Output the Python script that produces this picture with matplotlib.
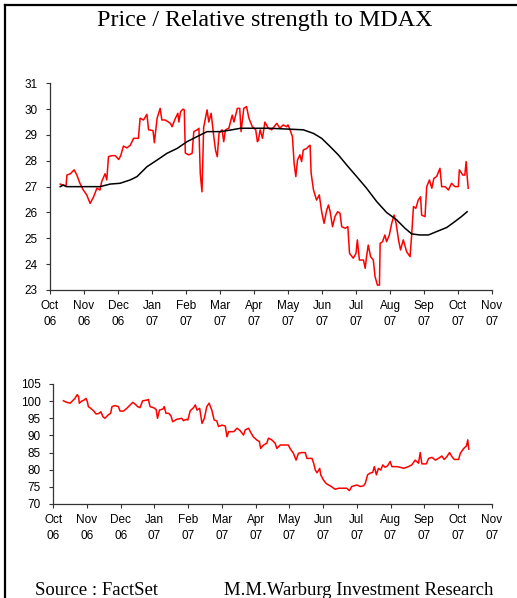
import matplotlib
matplotlib.use("Agg")
import matplotlib.pyplot as plt
from matplotlib.lines import Line2D

# x positions are months after 1 Oct 2006 (0 = Oct 06, 13 = Nov 07)
month_labels = ["Oct\n06", "Nov\n06", "Dec\n06", "Jan\n07", "Feb\n07", "Mar\n07", "Apr\n07",
                "May\n07", "Jun\n07", "Jul\n07", "Aug\n07", "Sep\n07", "Oct\n07", "Nov\n07"]

# share price (EUR)
price_x = [0.30, 0.39, 0.47, 0.50, 0.60, 0.71, 0.79, 0.88, 0.98, 1.08, 1.18, 1.28, 1.38, 1.47, 1.52,
           1.62, 1.67, 1.72, 1.82, 1.92, 2.02, 2.08, 2.16, 2.26, 2.36, 2.46, 2.60, 2.65, 2.75, 2.85,
           2.90, 3.03, 3.07, 3.15, 3.24, 3.29, 3.39, 3.54, 3.59, 3.69, 3.76, 3.79, 3.84, 3.91, 3.95,
           3.98, 4.08, 4.18, 4.23, 4.33, 4.38, 4.42, 4.47, 4.52, 4.62, 4.67, 4.74, 4.82, 4.87, 4.92,
           4.97, 5.06, 5.11, 5.16, 5.26, 5.36, 5.41, 5.51, 5.58, 5.62, 5.70, 5.78, 5.85, 5.95, 6.05,
           6.10, 6.13, 6.18, 6.25, 6.32, 6.42, 6.52, 6.67, 6.76, 6.86, 6.96, 7.00, 7.06, 7.13, 7.18,
           7.23, 7.28, 7.35, 7.40, 7.45, 7.55, 7.60, 7.65, 7.68, 7.75, 7.84, 7.92, 7.99, 8.06, 8.14,
           8.19, 8.24, 8.31, 8.38, 8.46, 8.53, 8.58, 8.68, 8.76, 8.81, 8.92, 9.00, 9.04, 9.10, 9.22,
           9.27, 9.31, 9.36, 9.43, 9.51, 9.56, 9.63, 9.69, 9.71, 9.78, 9.85, 9.90, 9.98, 10.05, 10.12,
           10.18, 10.25, 10.31, 10.39, 10.49, 10.59, 10.64, 10.69, 10.76, 10.83, 10.90, 10.93, 11.03,
           11.08, 11.16, 11.23, 11.29, 11.37, 11.47, 11.52, 11.62, 11.72, 11.81, 11.91, 12.01, 12.04,
           12.14, 12.20, 12.24, 12.27, 12.30]
price_y = [27.10, 27.06, 27.03, 27.45, 27.50, 27.65, 27.45, 27.13, 26.87, 26.68, 26.35, 26.60, 26.94, 26.87, 27.20,
           27.50, 27.26, 28.16, 28.20, 28.20, 28.05, 28.20, 28.57, 28.50, 28.60, 28.87, 28.87, 29.65, 29.58, 29.80,
           29.20, 29.17, 28.70, 29.65, 30.03, 29.58, 29.58, 29.45, 29.32, 29.65, 29.84, 29.50, 29.90, 30.00, 29.97,
           28.30, 28.23, 28.29, 29.13, 29.20, 29.26, 27.50, 26.80, 29.30, 29.97, 29.50, 29.84, 28.90, 28.40, 28.16,
           29.06, 29.20, 28.74, 29.20, 29.26, 29.77, 29.50, 30.03, 30.03, 29.13, 30.03, 30.10, 29.65, 29.32, 29.20,
           28.74, 28.80, 29.20, 28.87, 29.50, 29.26, 29.20, 29.45, 29.26, 29.39, 29.32, 29.39, 29.20, 28.94, 27.90,
           27.39, 28.03, 28.23, 27.97, 28.42, 28.48, 28.55, 28.60, 27.52, 26.87, 26.48, 26.68, 26.03, 25.58, 26.10,
           26.29, 26.03, 25.45, 25.84, 26.03, 25.97, 25.45, 25.39, 25.45, 24.42, 24.23, 24.42, 24.94, 24.16, 24.16,
           23.84, 24.29, 24.74, 24.29, 24.16, 23.52, 23.19, 23.19, 24.80, 24.87, 25.13, 24.87, 25.13, 25.58, 25.90,
           25.58, 24.94, 24.55, 24.94, 24.48, 24.29, 25.19, 26.23, 26.16, 26.48, 26.61, 25.90, 25.84,
           27.00, 27.26, 26.94, 27.32, 27.39, 27.71, 27.00, 27.00, 26.87, 27.13, 27.00, 27.00, 27.65,
           27.45, 27.45, 27.97, 27.39, 26.94]

# 200-day moving average
ma_x = [0.30, 0.39, 0.49, 1.47, 1.77, 2.06, 2.36, 2.56, 2.85, 3.15, 3.44, 3.74, 4.03, 4.33, 4.62,
        5.01, 5.31, 5.60, 5.90, 6.47, 7.45, 7.75, 7.99, 8.24, 8.48, 8.77, 9.02, 9.31, 9.61, 9.90,
        10.20, 10.44, 10.64, 10.88, 11.13, 11.37, 11.67, 11.91, 12.10, 12.27]
ma_y = [27.00, 27.06, 27.00, 27.00, 27.10, 27.13, 27.26, 27.39, 27.77, 28.03, 28.29, 28.48, 28.74, 28.94, 29.13,
        29.13, 29.19, 29.26, 29.26, 29.26, 29.20, 29.06, 28.87, 28.55, 28.23, 27.77, 27.39, 26.94, 26.42, 26.00,
        25.71, 25.39, 25.17, 25.13, 25.13, 25.26, 25.42, 25.65, 25.84, 26.03]

# relative strength to MDAX
rel_x = [0.30, 0.40, 0.50, 0.57, 0.64, 0.71, 0.75, 0.77, 0.84, 0.91, 0.97, 1.01, 1.04, 1.11, 1.19,
         1.27, 1.35, 1.41, 1.47, 1.53, 1.63, 1.70, 1.74, 1.83, 1.93, 1.98, 2.08, 2.18, 2.28, 2.36,
         2.43, 2.50, 2.57, 2.65, 2.77, 2.82, 2.87, 2.97, 3.05, 3.09, 3.15, 3.25, 3.29, 3.34, 3.42,
         3.49, 3.54, 3.66, 3.81, 3.86, 3.94, 3.99, 4.06, 4.16, 4.21, 4.26, 4.34, 4.41, 4.48, 4.55,
         4.62, 4.70, 4.77, 4.85, 4.90, 5.00, 5.10, 5.15, 5.20, 5.35, 5.45, 5.54, 5.64, 5.69, 5.79,
         5.84, 5.93, 6.03, 6.11, 6.15, 6.23, 6.33, 6.38, 6.48, 6.58, 6.63, 6.73, 6.97, 7.02, 7.12,
         7.20, 7.27, 7.37, 7.47, 7.52, 7.67, 7.72, 7.77, 7.82, 7.90, 7.93, 8.01, 8.09, 8.16, 8.21,
         8.36, 8.46, 8.59, 8.70, 8.78, 8.85, 9.00, 9.10, 9.20, 9.25, 9.32, 9.39, 9.47, 9.52, 9.58,
         9.64, 9.71, 9.77, 9.84, 9.91, 9.99, 10.04, 10.19, 10.29, 10.39, 10.53, 10.63, 10.73, 10.83,
         10.88, 10.93, 11.06, 11.13, 11.23, 11.33, 11.42, 11.52, 11.59, 11.67, 11.75, 11.82, 11.89,
         12.02, 12.07, 12.17, 12.25, 12.29, 12.32]
rel_y = [100.1, 99.65, 99.4, 100.1, 100.8, 101.9, 101.3, 99.4, 100.0, 100.3, 100.8, 99.85, 98.4, 97.9, 97.2,
         96.25, 96.4, 96.9, 95.5, 95.0, 96.0, 96.45, 98.4, 98.7, 98.4, 97.1, 97.1, 97.9, 98.9, 99.65,
         99.1, 98.4, 98.1, 100.1, 100.3, 100.5, 98.4, 98.1, 97.6, 95.0, 97.4, 97.7, 98.4, 96.45, 96.45,
         95.7, 94.0, 94.7, 95.0, 94.3, 94.7, 94.5, 97.2, 98.1, 98.9, 97.4, 97.9, 93.5, 95.0, 98.4,
         99.4, 97.4, 94.5, 94.2, 92.6, 93.0, 92.75, 89.6, 91.1, 91.1, 92.1, 91.4, 90.1, 91.6, 92.1,
         91.1, 89.6, 88.7, 88.2, 86.2, 87.2, 87.7, 89.2, 88.7, 87.7, 86.2, 87.2, 87.2, 86.2, 84.8,
         82.8, 84.8, 85.0, 85.0, 83.3, 83.3, 81.9, 79.9, 79.1, 80.4, 78.5, 77.0, 76.0, 75.55, 75.3,
         74.3, 74.6, 74.6, 74.6, 73.9, 75.1, 75.55, 75.1, 75.3, 76.0, 78.5, 79.0, 79.2, 80.9, 78.5,
         80.4, 79.9, 81.4, 80.7, 81.1, 82.4, 80.9, 80.9, 80.7, 80.4, 80.9, 81.4, 82.8, 81.9,
         85.0, 81.7, 81.7, 83.3, 83.6, 82.8, 83.3, 84.0, 83.0, 83.8, 85.0, 83.8, 83.0,
         83.0, 84.8, 86.2, 86.9, 88.7, 86.0]

plt.rcParams['font.family'] = ['Liberation Sans', 'DejaVu Sans']

fig = plt.figure(figsize=(5.17, 5.98), dpi=100)
W, H = 517, 598


def style_axes(ax, ymin, ymax, step):
    ax.set_xlim(0, 13)
    ax.set_ylim(ymin, ymax)
    ax.set_xticks(range(14))
    ax.set_xticklabels(month_labels, fontsize=8.5, linespacing=1.45)
    ax.set_yticks(list(range(ymin, ymax + 1, step)))
    ax.tick_params(axis='both', direction='out', length=3, width=0.8, colors='#333333',
                   labelcolor='black', labelsize=8.5)
    ax.tick_params(axis='x', pad=4)
    ax.tick_params(axis='y', pad=6)
    for s in ['top', 'right']:
        ax.spines[s].set_visible(False)
    for s in ['left', 'bottom']:
        ax.spines[s].set_color('#333333')
        ax.spines[s].set_linewidth(0.9)


# top panel: price and moving average
ax1 = fig.add_axes([50 / W, 1 - 290 / H, 442 / W, 206.7 / H])
ax1.plot(price_x, price_y, color='#ff0000', lw=1.1)
ax1.plot(ma_x, ma_y, color='black', lw=1.1)
style_axes(ax1, 23, 31, 1)

# bottom panel: relative strength
ax2 = fig.add_axes([53.3 / W, 1 - 504 / H, 438.4 / W, 120 / H])
ax2.plot(rel_x, rel_y, color='#ff0000', lw=1.1)
style_axes(ax2, 70, 105, 5)

# title and footer
fig.text(264.5 / W, 1 - 26 / H, "Price / Relative strength to MDAX", ha='center', va='baseline',
         fontsize=17.3, family=['Liberation Serif'])
fig.text(35 / W, 1 - 595 / H, "Source : FactSet", ha='left', va='baseline',
         fontsize=13.5, family=['Liberation Serif'])
fig.text(493 / W, 1 - 595 / H, "M.M.Warburg Investment Research", ha='right', va='baseline',
         fontsize=13.5, family=['Liberation Serif'])

# frame lines on top and left
fig.add_artist(Line2D([5 / W, 1], [1 - 5 / H, 1 - 5 / H], color='black', lw=1.6))
fig.add_artist(Line2D([5 / W, 5 / W], [0, 1 - 5 / H], color='black', lw=1.6))

fig.savefig("out.png", dpi=100)
